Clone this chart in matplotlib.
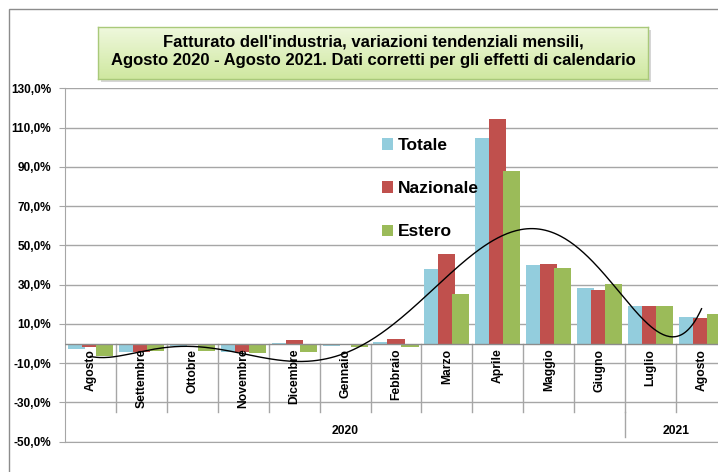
import numpy as np
import matplotlib
matplotlib.use("Agg")
import matplotlib.pyplot as plt
from matplotlib.patches import Rectangle, Patch

# ---- data ----
mesi = ["Agosto", "Settembre", "Ottobre", "Novembre", "Dicembre", "Gennaio",
        "Febbraio", "Marzo", "Aprile", "Maggio", "Giugno", "Luglio", "Agosto"]
anni = ["2020", "2021"]
anni_n = [11, 2]
totale = [-3.0, -4.2, -1.2, -4.2, 0.2, -1.4, 0.8, 38.0, 104.8, 40.0, 28.4, 18.9, 13.6]
nazionale = [-1.9, -4.3, -0.9, -4.2, 1.9, -1.0, 2.2, 45.4, 114.5, 40.7, 27.4, 18.9, 12.9]
estero = [-6.3, -3.9, -3.9, -4.6, -4.2, -1.7, -2.0, 25.0, 88.0, 38.3, 30.3, 19.0, 15.1]
yticks = [-50, -30, -10, 10, 30, 50, 70, 90, 110, 130]
titolo = ("Fatturato dell'industria, variazioni tendenziali mensili,\n"
          "Agosto 2020 - Agosto 2021. Dati corretti per gli effetti di calendario")

C_TOT = "#93CDDD"
C_NAZ = "#C0504D"
C_EST = "#9BBB59"
GRID = "#A6A6A6"

W, H = 718, 472
fig = plt.figure(figsize=(W / 100, H / 100), dpi=100)
fig.patch.set_facecolor("white")

def fx(px):
    return px / W

def fy(py):
    return 1 - py / H

# chart border (cropped on right and bottom)
border = Rectangle((fx(9), fy(480)), fx(740) - fx(9), fy(9) - fy(480),
                   transform=fig.transFigure, fill=False,
                   edgecolor="#8C8C8C", linewidth=1.0, zorder=-5)
fig.patches.append(border)

# plot area
left, right, top, bottom = 65, 727, 88.3, 441.7
ax = fig.add_axes([fx(left), fy(bottom), fx(right) - fx(left), fy(top) - fy(bottom)])
n = len(mesi)
x = np.arange(n)
ax.set_xlim(-0.5, n - 0.5)
ax.set_ylim(-50, 130)

for yv in yticks:
    ax.axhline(yv, color=GRID, linewidth=1.0, zorder=0)

bw = 0.335
step = 0.275
ax.bar(x - step, totale, width=bw, color=C_TOT, zorder=2, linewidth=0)
ax.bar(x, nazionale, width=bw, color=C_NAZ, zorder=3, linewidth=0)
ax.bar(x + step, estero, width=bw, color=C_EST, zorder=4, linewidth=0)

# category axis at zero
ax.axhline(0, color="#8C8C8C", linewidth=1.0, zorder=5)

# polynomial trendline (order 6) on Estero
coef = np.polyfit(x + 1, estero, 6)
xs = np.linspace(0, n - 1, 400)
ax.plot(xs, np.polyval(coef, xs + 1), color="black", linewidth=1.0, zorder=6)

# separators of the category axis
for i in range(n - 1):
    ax.plot([i + 0.5, i + 0.5], [0, -34.7], color=GRID, linewidth=1.0, zorder=1)
pos = -0.5
for cnt in anni_n[:-1]:
    pos += cnt
    ax.plot([pos, pos], [-34.7, -47.6], color=GRID, linewidth=1.0, zorder=1)

# month labels
for i, m in enumerate(mesi):
    ax.text(i, -2.6, m, rotation=90, ha="center", va="top", fontsize=8.7,
            fontweight="bold", family="Liberation Sans", zorder=7)
# year labels
start = -0.5
for a, cnt in zip(anni, anni_n):
    ax.text(start + cnt / 2, -44.4, a, ha="center", va="center", fontsize=8.7,
            fontweight="bold", family="Liberation Sans")
    start += cnt

ax.set_xticks([])
ax.set_yticks(yticks)
ax.set_yticklabels([f"{v:.1f}%".replace(".", ",") for v in yticks],
                   fontsize=8.5, fontweight="bold", family="Liberation Sans")
ax.tick_params(axis="y", length=4, color=GRID, pad=6)
for s in ["top", "right"]:
    ax.spines[s].set_visible(False)
ax.spines["left"].set_color(GRID)
ax.spines["bottom"].set_color(GRID)

# legend
handles = [Patch(facecolor=C_TOT), Patch(facecolor=C_NAZ), Patch(facecolor=C_EST)]
ax.legend(handles, ["Totale", "Nazionale", "Estero"], loc="upper left",
          bbox_to_anchor=(fx(382), fy(138)), bbox_transform=fig.transFigure,
          frameon=False, prop={"family": "Liberation Sans", "weight": "bold", "size": 12.5},
          handlelength=0.62, handleheight=0.62, handletextpad=0.3,
          labelspacing=1.62, borderpad=0, borderaxespad=0)

# title box with gradient and shadow
tb = [98, 27, 648, 79]
sax = fig.add_axes([fx(tb[0] + 3), fy(tb[3] + 3), fx(tb[2] - tb[0]), fy(tb[1]) - fy(tb[3])])
sax.set_facecolor("#D6D6D6")
sax.set_xticks([])
sax.set_yticks([])
for s in sax.spines.values():
    s.set_visible(False)
tax = fig.add_axes([fx(tb[0]), fy(tb[3]), fx(tb[2] - tb[0]), fy(tb[1]) - fy(tb[3])])
grad = np.linspace(0, 1, 64).reshape(-1, 1)
c1 = np.array(matplotlib.colors.to_rgb("#EFF8DD"))
c2 = np.array(matplotlib.colors.to_rgb("#CFE8A0"))
img = c1[None, None, :] * (1 - grad[..., None]) + c2[None, None, :] * grad[..., None]
tax.imshow(img, aspect="auto", extent=[0, 1, 0, 1], origin="upper")
tax.set_xlim(0, 1)
tax.set_ylim(0, 1)
tax.set_xticks([])
tax.set_yticks([])
for s in tax.spines.values():
    s.set_color("#A9C97A")
    s.set_linewidth(1.0)
tax.text(0.5, 0.53, titolo, ha="center", va="center", fontsize=12.0, fontweight="bold",
         family="Liberation Sans", linespacing=1.25)

fig.savefig("out.png", dpi=100)
